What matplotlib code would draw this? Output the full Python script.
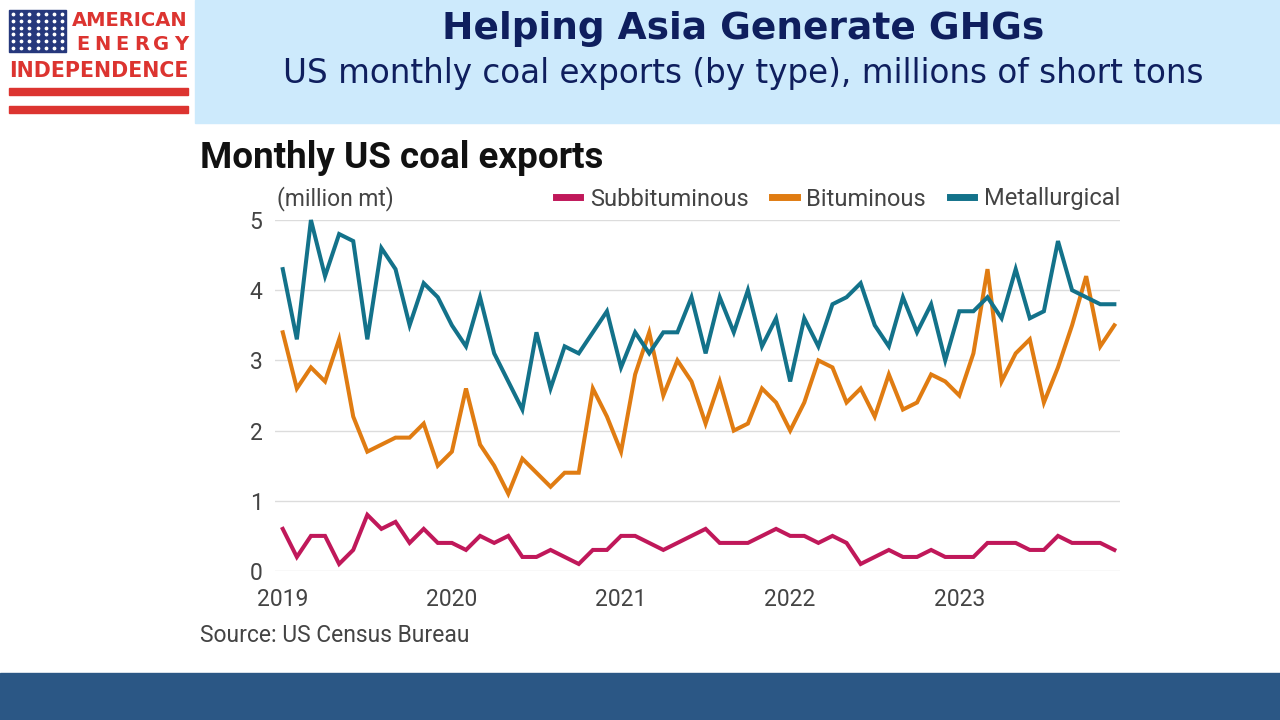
import numpy as np
import matplotlib
matplotlib.use('Agg')
import matplotlib.pyplot as plt
from matplotlib.patches import Rectangle

# monthly exports, Jan 2019 - Dec 2023 (million mt)
subbituminous = [0.6, 0.2, 0.5, 0.5, 0.1, 0.3, 0.8, 0.6, 0.7, 0.4, 0.6, 0.4,
                 0.4, 0.3, 0.5, 0.4, 0.5, 0.2, 0.2, 0.3, 0.2, 0.1, 0.3, 0.3,
                 0.5, 0.5, 0.4, 0.3, 0.4, 0.5, 0.6, 0.4, 0.4, 0.4, 0.5, 0.6,
                 0.5, 0.5, 0.4, 0.5, 0.4, 0.1, 0.2, 0.3, 0.2, 0.2, 0.3, 0.2,
                 0.2, 0.2, 0.4, 0.4, 0.4, 0.3, 0.3, 0.5, 0.4, 0.4, 0.4, 0.3]
bituminous = [3.4, 2.6, 2.9, 2.7, 3.3, 2.2, 1.7, 1.8, 1.9, 1.9, 2.1, 1.5,
              1.7, 2.6, 1.8, 1.5, 1.1, 1.6, 1.4, 1.2, 1.4, 1.4, 2.6, 2.2,
              1.7, 2.8, 3.4, 2.5, 3.0, 2.7, 2.1, 2.7, 2.0, 2.1, 2.6, 2.4,
              2.0, 2.4, 3.0, 2.9, 2.4, 2.6, 2.2, 2.8, 2.3, 2.4, 2.8, 2.7,
              2.5, 3.1, 4.3, 2.7, 3.1, 3.3, 2.4, 2.9, 3.5, 4.2, 3.2, 3.5]
metallurgical = [4.3, 3.3, 5.0, 4.2, 4.8, 4.7, 3.3, 4.6, 4.3, 3.5, 4.1, 3.9,
                 3.5, 3.2, 3.9, 3.1, 2.7, 2.3, 3.4, 2.6, 3.2, 3.1, 3.4, 3.7,
                 2.9, 3.4, 3.1, 3.4, 3.4, 3.9, 3.1, 3.9, 3.4, 4.0, 3.2, 3.6,
                 2.7, 3.6, 3.2, 3.8, 3.9, 4.1, 3.5, 3.2, 3.9, 3.4, 3.8, 3.0,
                 3.7, 3.7, 3.9, 3.6, 4.3, 3.6, 3.7, 4.7, 4.0, 3.9, 3.8, 3.8]
years = ['2019', '2020', '2021', '2022', '2023']
yticks = [0, 1, 2, 3, 4, 5]

series = [('Subbituminous', subbituminous, '#c0185a'),
          ('Bituminous', bituminous, '#e07c12'),
          ('Metallurgical', metallurgical, '#13728a')]

fig = plt.figure(figsize=(12.8, 7.2), dpi=100)
W, H = 1280, 720

# header band and footer band
fig.patches.append(Rectangle((195 / W, 1 - 123 / H), 1 - 195 / W, 123 / H,
                             transform=fig.transFigure, color='#cdeafc', zorder=0))
fig.patches.append(Rectangle((0, 0), 1, 47 / H, transform=fig.transFigure,
                             color='#2b5785', zorder=0))

fig.text(743 / W, 1 - 29 / H, 'Helping Asia Generate GHGs', ha='center', va='center',
         fontsize=27, fontweight='bold', color='#0f1f5e', family='DejaVu Sans')
fig.text(743 / W, 1 - 73 / H, 'US monthly coal exports (by type), millions of short tons',
         ha='center', va='center', fontsize=23.5, color='#0f1f5e', family='DejaVu Sans')

# logo
red = '#dc3430'
lax = fig.add_axes([0, 1 - 125 / H, 195 / W, 125 / H])
lax.set_xlim(0, 195)
lax.set_ylim(125, 0)
lax.axis('off')
lax.add_patch(Rectangle((9, 10), 57, 42, color='#26387c'))
sx, sy = np.meshgrid(np.linspace(13, 62, 7), np.linspace(14, 48, 6))
lax.scatter(sx.ravel(), sy.ravel(), s=3, color='white', zorder=3)
lax.text(188, 20, 'AMERICAN', ha='right', va='center', color=red,
         fontsize=14, fontweight='bold', family='DejaVu Sans')
for lx, letter in zip(np.linspace(83, 181, 6), 'ENERGY'):
    lax.text(lx, 45, letter, ha='center', va='center', color=red,
             fontsize=14, fontweight='bold', family='DejaVu Sans')
lax.text(98.5, 71, 'INDEPENDENCE', ha='center', va='center', color=red,
         fontsize=14.8, fontweight='bold', family='DejaVu Sans')
lax.add_patch(Rectangle((9, 88), 179, 7, color=red))
lax.add_patch(Rectangle((9, 106), 179, 7, color=red))

# chart
ax = fig.add_axes([275 / W, (720 - 571) / H, (1120 - 275) / W, (571 - 220) / H])
x = np.arange(len(metallurgical))
for name, vals, col in series:
    ax.plot(x, vals, color=col, lw=2.9, label=name, clip_on=False,
            solid_joinstyle='miter')

ax.set_xlim(-0.55, 59.4)
ax.set_ylim(0, 5)
ax.set_yticks(yticks)
ax.set_xticks(np.arange(len(years)) * 12)
ax.set_xticklabels(years)
ax.grid(axis='y', color='#dcdcdc', lw=1)
ax.set_axisbelow(True)
for s in ax.spines.values():
    s.set_visible(False)
ax.tick_params(length=0, labelsize=16.5, labelcolor='#444444')
ax.tick_params(axis='y', pad=9)
ax.tick_params(axis='x', pad=12)
for t in ax.get_xticklabels() + ax.get_yticklabels():
    t.set_family('Roboto')

leg = ax.legend(loc='center right', bbox_to_anchor=(1.0, 1 + 21 / 351), ncol=3,
                frameon=False, borderaxespad=0, borderpad=0,
                handlelength=1.05, handletextpad=0.4, columnspacing=1.0,
                prop={'family': 'Roboto', 'size': 17})
for h in leg.get_lines():
    h.set_linewidth(5)
for t in leg.get_texts():
    t.set_color('#444444')

fig.text(277 / W, 1 - 199 / H, '(million mt)', ha='left', va='center',
         fontsize=16.5, color='#444444', family='Roboto')
fig.text(200 / W, 1 - 158 / H, 'Monthly US coal exports', ha='left', va='center',
         fontsize=26.5, fontweight='bold', color='#111111', family='Roboto')
fig.text(200 / W, 1 - 636 / H, 'Source: US Census Bureau', ha='left', va='center',
         fontsize=16.5, color='#444444', family='Roboto')

fig.savefig('out.png', dpi=100)
